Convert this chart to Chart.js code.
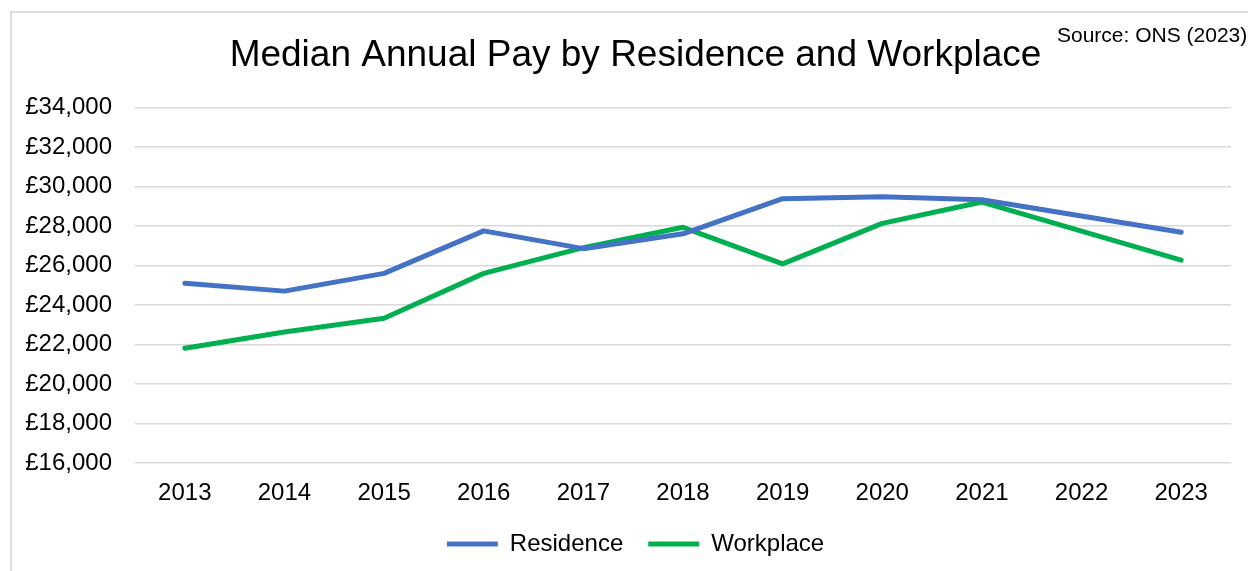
<!DOCTYPE html>
<html>
<head>
<meta charset="utf-8">
<script src="https://cdn.jsdelivr.net/npm/chart.js@4"></script>
<style>
  html, body { margin: 0; padding: 0; background: #fff; overflow: hidden; }
  #wrap { position: relative; width: 1248px; height: 571px; overflow: hidden; }
  #frame { position: absolute; left: 10px; top: 11px; width: 1300px; height: 600px;
           border: 2px solid #dcdcdc; box-sizing: border-box; }
  #source { position: absolute; left: 1057px; top: 24px; font: 21px "Liberation Sans", Arial, sans-serif;
            line-height: 21px; white-space: nowrap; color: #000; }
  canvas { position: absolute; left: 0; top: 0; }
</style>
</head>
<body>
<div id="wrap">
  <div id="frame"></div>
  <canvas id="chart" width="1271" height="571"></canvas>
  <div id="source">Source: ONS (2023)</div>
</div>
<script>
const years = ["2013", "2014", "2015", "2016", "2017", "2018", "2019", "2020", "2021", "2022", "2023"];
const residence = [25100, 24700, 25600, 27750, 26850, 27600, 29380, 29480, 29330, 28500, 27680];
const workplace = [21810, 22630, 23330, 25600, 26900, 27930, 26080, 28130, 29210, 27740, 26270];
const yMin = 16000;
const yMax = 34000;
const yStep = 2000;

Chart.defaults.font.family = '"Liberation Sans", Arial, sans-serif';
Chart.defaults.color = '#000';

const chart = document.querySelector("#chart").getContext("2d");

// the canvas is a bit wider than the page, the empty right axis
// keeps the plot ending at the same place while title/legend centre like the original
new Chart(chart, {
  type: 'line',
  data: {
    labels: years,
    datasets: [
      {
        label: 'Residence',
        data: residence,
        borderColor: '#4472C4',
        backgroundColor: '#4472C4',
        borderWidth: 5,
        borderCapStyle: 'round',
        borderJoinStyle: 'round',
        pointRadius: 0,
        tension: 0
      },
      {
        label: 'Workplace',
        data: workplace,
        borderColor: '#00B050',
        backgroundColor: '#00B050',
        borderWidth: 5,
        borderCapStyle: 'round',
        borderJoinStyle: 'round',
        pointRadius: 0,
        tension: 0
      }
    ]
  },
  options: {
    responsive: false,
    animation: false,
    layout: { padding: { left: 0, right: 0, top: 0, bottom: 5 } },
    plugins: {
      title: {
        display: true,
        text: 'Median Annual Pay by Residence and Workplace',
        font: { size: 37, weight: 'normal' },
        color: '#000',
        padding: { top: 34, bottom: 29 }
      },
      legend: {
        position: 'bottom',
        labels: {
          usePointStyle: true,
          pointStyle: 'line',
          pointStyleWidth: 51,
          padding: 25,
          font: { size: 24 },
          color: '#000'
        }
      },
      tooltip: { enabled: false }
    },
    scales: {
      x: {
        offset: true,
        afterFit: (scale) => { scale.height = 44; },
        grid: { display: false, drawTicks: false },
        border: { display: false },
        ticks: { font: { size: 24 }, padding: 16, color: '#000' }
      },
      y: {
        min: yMin,
        max: yMax,
        afterFit: (scale) => { scale.width = 135; },
        grid: { color: '#d9d9d9', lineWidth: 1.5, drawTicks: false },
        border: { display: false },
        ticks: {
          stepSize: yStep,
          font: { size: 24 },
          padding: 23,
          color: '#000',
          callback: (v) => '£' + v.toLocaleString('en-GB')
        }
      },
      spacer: {
        type: 'linear',
        position: 'right',
        afterFit: (scale) => { scale.width = 40; },
        grid: { display: false, drawTicks: false },
        border: { display: false },
        ticks: { display: false }
      }
    }
  }
});
</script>
</body>
</html>
